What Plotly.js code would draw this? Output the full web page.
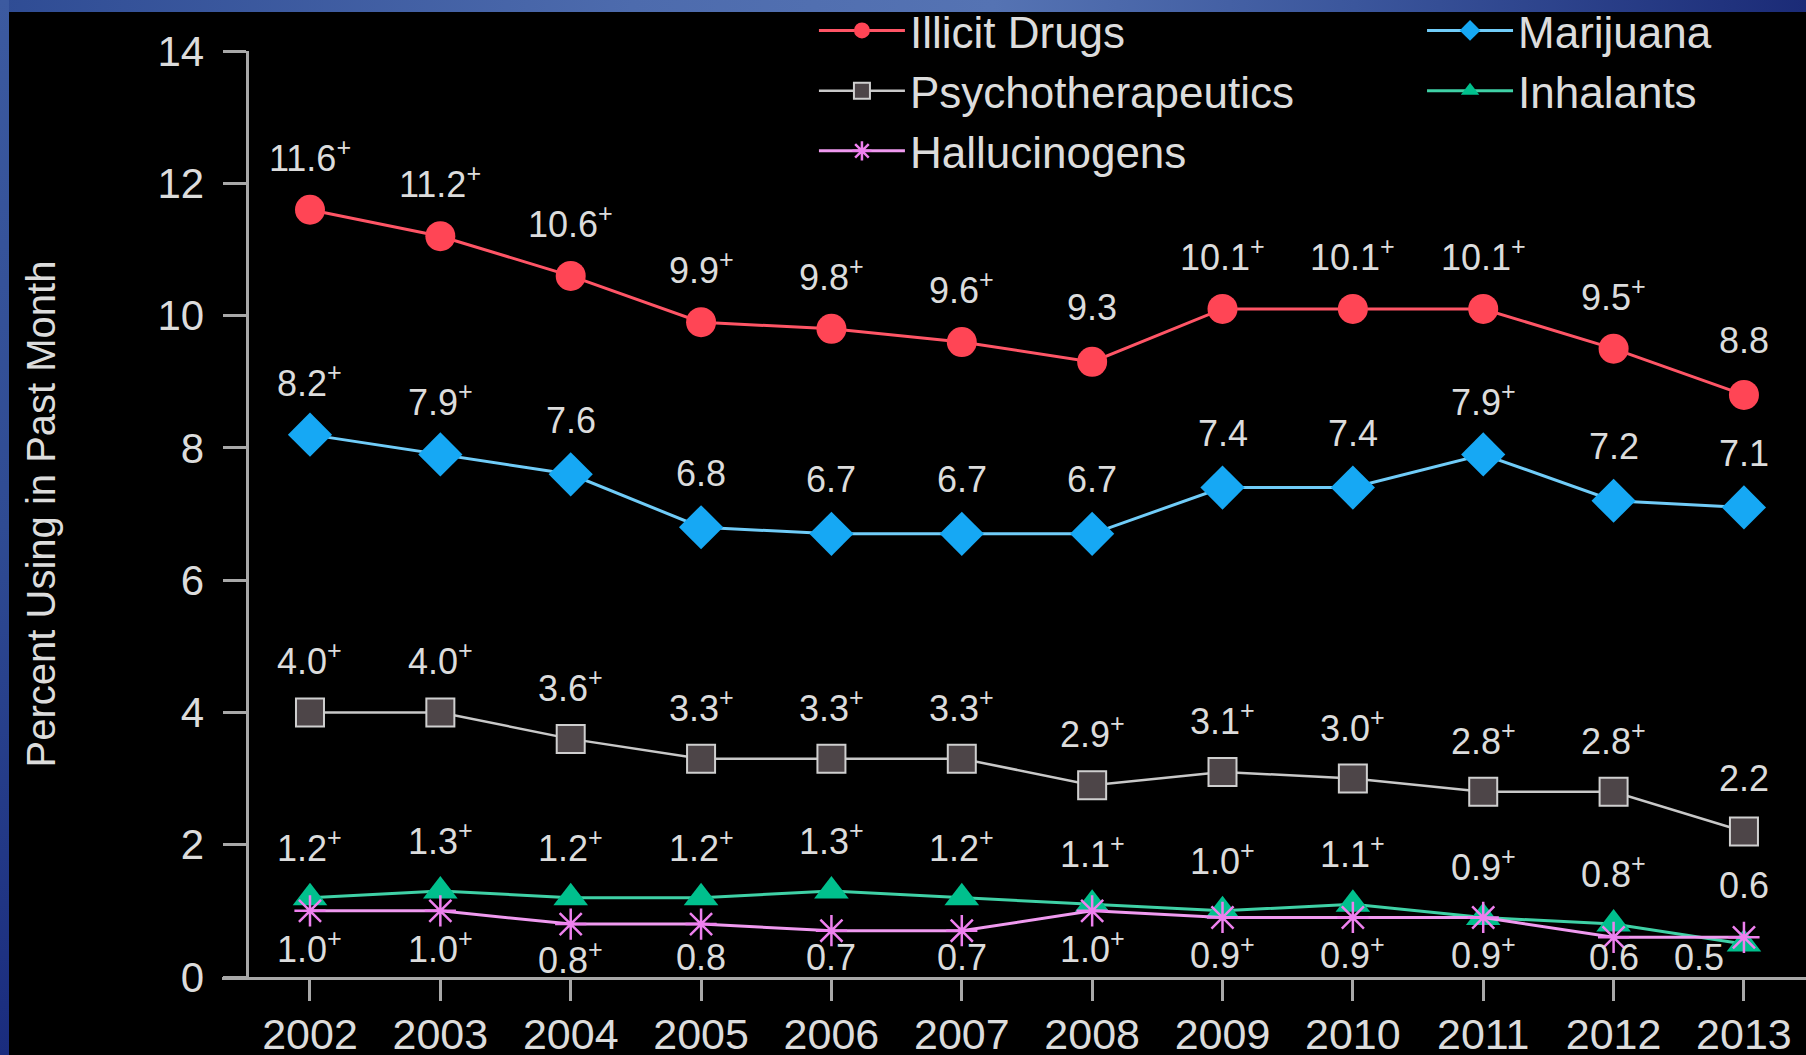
<!DOCTYPE html>
<html>
<head>
<meta charset="utf-8">
<script src="https://cdn.plot.ly/plotly-3.0.1.min.js"></script>
<style>
  html, body { margin: 0; padding: 0; width: 1806px; height: 1055px; overflow: hidden; background: #000; }
  #topband { position: absolute; z-index: 2; left: 0; top: 0; width: 1806px; height: 12px;
    background: linear-gradient(to right, #2f4c94 0%, #4d6bad 35%, #5573b3 55%, #3b569c 75%, #1b2b77 100%); }
  #leftband { position: absolute; z-index: 2; left: 0; top: 0; width: 9px; height: 1055px;
    background: linear-gradient(to bottom, #3c5aa0 0%, #2f4b93 50%, #1a2c7e 100%); }
  #chart { position: absolute; z-index: 1; left: 9px; top: -18px; width: 1797px; height: 1073px; }
</style>
</head>
<body>
<div id="topband"></div>
<div id="leftband"></div>
<div id="chart"></div>
<script>
// ---- data ----
const years = [2002, 2003, 2004, 2005, 2006, 2007, 2008, 2009, 2010, 2011, 2012, 2013];
const illicit = [11.6, 11.2, 10.6, 9.9, 9.8, 9.6, 9.3, 10.1, 10.1, 10.1, 9.5, 8.8];
const marijuana = [8.2, 7.9, 7.6, 6.8, 6.7, 6.7, 6.7, 7.4, 7.4, 7.9, 7.2, 7.1];
const psychotherapeutics = [4.0, 4.0, 3.6, 3.3, 3.3, 3.3, 2.9, 3.1, 3.0, 2.8, 2.8, 2.2];
const inhalants = [1.2, 1.3, 1.2, 1.2, 1.3, 1.2, 1.1, 1.0, 1.1, 0.9, 0.8, 0.5];
const hallucinogens = [1.0, 1.0, 0.8, 0.8, 0.7, 0.7, 1.0, 0.9, 0.9, 0.9, 0.6, 0.6];

const illicitLabels = ["11.6+", "11.2+", "10.6+", "9.9+", "9.8+", "9.6+", "9.3", "10.1+", "10.1+", "10.1+", "9.5+", "8.8"];
const marijuanaLabels = ["8.2+", "7.9+", "7.6", "6.8", "6.7", "6.7", "6.7", "7.4", "7.4", "7.9+", "7.2", "7.1"];
const psychoLabels = ["4.0+", "4.0+", "3.6+", "3.3+", "3.3+", "3.3+", "2.9+", "3.1+", "3.0+", "2.8+", "2.8+", "2.2"];
const inhalantsLabels = ["1.2+", "1.3+", "1.2+", "1.2+", "1.3+", "1.2+", "1.1+", "1.0+", "1.1+", "0.9+", "0.8+", "0.5"];
const hallucinogensLabels = ["1.0+", "1.0+", "0.8+", "0.8", "0.7", "0.7", "1.0+", "0.9+", "0.9+", "0.9+", "0.6", "0.6"];

const yTicks = [0, 2, 4, 6, 8, 10, 12, 14];

// ---- styling ----
const FONT = '"Liberation Sans", Arial, sans-serif';
const TXT = '#dcdcdc';
const AXIS = '#a8a8a8';

function fmt(s) {
  return s.endsWith('+') ? s.slice(0, -1) + '<sup>+</sup>' : s;
}

const traces = [
  { name: 'Illicit Drugs', y: illicit, legend: 'legend',
    line: { color: '#ff5566', width: 3 },
    marker: { symbol: 'circle', size: 30, color: '#ff4555', line: { width: 0 } } },
  { name: 'Marijuana', y: marijuana, legend: 'legend2',
    line: { color: '#70ccf8', width: 3 },
    marker: { symbol: 'diamond', size: 34, color: '#16a8f4', line: { width: 0 } } },
  { name: 'Psychotherapeutics', y: psychotherapeutics, legend: 'legend',
    line: { color: '#c8c8c8', width: 2.5 },
    marker: { symbol: 'square', size: 28, color: '#4d4548', line: { width: 2, color: '#cfcfcf' } } },
  { name: 'Inhalants', y: inhalants, legend: 'legend2',
    line: { color: '#3fd1a6', width: 3 },
    marker: { symbol: 'triangle-up', size: 30, color: '#00c08d', line: { width: 0 } } },
  { name: 'Hallucinogens', y: hallucinogens, legend: 'legend',
    line: { color: '#f09af0', width: 3 },
    marker: { symbol: 'asterisk-open', size: 26, color: '#ee80ee', line: { width: 2.5, color: '#ee80ee' } } }
].map(t => Object.assign({ type: 'scatter', mode: 'lines+markers', x: years, hoverinfo: 'x+y' }, t));

// ---- value labels ----
const annFont = { family: FONT, size: 36, color: TXT };
const annotations = [];
function above(vals, labels, shift) {
  vals.forEach((v, i) => annotations.push({
    x: years[i], y: v, xref: 'x', yref: 'y', text: fmt(labels[i]), showarrow: false,
    yshift: shift, font: annFont, xanchor: 'center', yanchor: 'middle'
  }));
}
above(illicit, illicitLabels, 54);
above(marijuana, marijuanaLabels, 54);
above(psychotherapeutics, psychoLabels, 53);

// low pair: the larger value is labelled above, the smaller below
years.forEach((yr, i) => {
  const inhTop = inhalants[i] >= hallucinogens[i];
  const topVal = inhTop ? inhalants[i] : hallucinogens[i];
  const topLab = inhTop ? inhalantsLabels[i] : hallucinogensLabels[i];
  const botVal = inhTop ? hallucinogens[i] : inhalants[i];
  const botLab = inhTop ? hallucinogensLabels[i] : inhalantsLabels[i];
  annotations.push({ x: yr, y: topVal, xref: 'x', yref: 'y', text: fmt(topLab), showarrow: false,
    yshift: 52, font: annFont, xanchor: 'center', yanchor: 'middle' });
  annotations.push({ x: yr, y: Math.max(botVal - 0.54, 0.29), xref: 'x', yref: 'y', text: fmt(botLab),
    showarrow: false, xshift: inhTop ? 0 : -45, font: annFont, xanchor: 'center', yanchor: 'middle' });
});

const legendCommon = {
  orientation: 'v', bgcolor: 'rgba(0,0,0,0)', borderwidth: 0,
  font: { family: FONT, size: 44, color: TXT }, itemwidth: 86, yanchor: 'top', xanchor: 'left'
};

const layout = {
  width: 1797, height: 1073,
  paper_bgcolor: '#000', plot_bgcolor: '#000',
  margin: { l: 213, r: 0, t: 68.7, b: 78, pad: 0 },
  font: { family: FONT, color: TXT },
  showlegend: true,
  legend: Object.assign({}, legendCommon, { x: 0.3737, y: 1.0601 }),
  legend2: Object.assign({}, legendCommon, { x: 0.7576, y: 1.0601 }),
  xaxis: {
    range: [2001.325, 2013.476], tickvals: years, ticktext: years.map(String),
    showgrid: false, zeroline: false, showline: true, linecolor: AXIS, linewidth: 3,
    ticks: 'outside', ticklen: 21, tickwidth: 3, tickcolor: AXIS,
    tickfont: { family: FONT, size: 43, color: TXT }, ticklabelstandoff: -4
  },
  yaxis: {
    range: [0, 14], tickvals: yTicks, anchor: 'free', position: 0.0155,
    showgrid: false, zeroline: false, showline: true, linecolor: AXIS, linewidth: 3,
    ticks: 'outside', ticklen: 23, tickwidth: 3, tickcolor: AXIS,
    tickfont: { family: FONT, size: 42, color: TXT }, ticklabelstandoff: 10,
    title: { text: 'Percent Using in Past Month', font: { family: FONT, size: 40, color: TXT }, standoff: 88 }
  },
  annotations: annotations
};

Plotly.newPlot('chart', traces, layout, { displayModeBar: false, staticPlot: true });
</script>
</body>
</html>
